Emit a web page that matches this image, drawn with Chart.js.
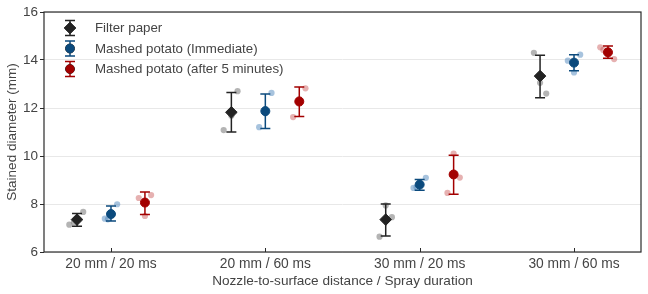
<!DOCTYPE html>
<html>
<head>
<meta charset="utf-8">
<script src="https://cdn.jsdelivr.net/npm/chart.js@4.4.1/dist/chart.umd.min.js"></script>
<style>
  html, body { margin: 0; padding: 0; background: #fff; }
  #wrap { width: 648px; height: 294px; }
</style>
</head>
<body>
<div id="wrap"><canvas id="myChart" width="648" height="294"></canvas></div>
<script>
// categories and series
var categories = ['20 mm / 20 ms', '20 mm / 60 ms', '30 mm / 20 ms', '30 mm / 60 ms'];
var seriesNames = ['Filter paper', 'Mashed potato (Immediate)', 'Mashed potato (after 5 minutes)'];

// means + error bar ends (mm)
var paperMean = [7.35, 11.82, 7.35, 13.33];
var paperLow = [7.07, 11.0, 6.67, 12.43];
var paperHigh = [7.6, 12.65, 8.0, 14.2];

var immediateMean = [7.58, 11.87, 8.81, 13.89];
var immediateLow = [7.29, 11.15, 8.57, 13.55];
var immediateHigh = [7.92, 12.58, 9.02, 14.22];

var after5Mean = [8.06, 12.27, 9.23, 14.32];
var after5Low = [7.56, 11.65, 8.41, 14.07];
var after5High = [8.5, 12.87, 10.03, 14.58];

// single measurements
var paperRaw = [[7.67, 7.14, 7.24], [12.7, 11.08, 11.68], [7.94, 7.45, 6.64], [14.3, 13.05, 12.6]];
var immediateRaw = [[7.99, 7.39, 7.36], [12.63, 11.2, 11.78], [9.09, 8.67, 8.7], [14.22, 13.97, 13.48]];
var after5Raw = [[8.25, 8.37, 7.5], [12.82, 11.62, 12.37], [10.1, 9.1, 8.46], [14.53, 14.04, 14.42]];

// horizontal jitter of the single measurements (category units)
var paperJitter = [[0.04, -0.05, -0.02], [0.04, -0.05, 0], [0, 0.04, -0.04], [-0.04, 0, 0.04]];
var immediateJitter = [[0.04, -0.04, -0.02], [0.04, -0.04, 0], [0.04, -0.04, -0.02], [0.04, -0.04, 0]];
var after5Jitter = [[-0.04, 0.04, 0], [0.04, -0.04, 0], [0, 0.04, -0.04], [-0.05, 0.04, -0.03]];

var yTicks = [6, 8, 10, 12, 14, 16];

// styling
var dodge = [-0.22, 0, 0.22];
var darkColors = ['#232323', '#0b4a7d', '#a30000'];
var lightColors = ['rgba(130,130,130,0.6)', 'rgba(80,135,190,0.5)', 'rgba(205,100,100,0.5)'];
var markerStyles = ['rectRot', 'circle', 'circle'];
var markerSizes = [5.8, 4.5, 4.5];
var textColor = '#444';
var fontFamily = '"Liberation Sans", Arial, Helvetica, sans-serif';

var means = [paperMean, immediateMean, after5Mean];
var lows = [paperLow, immediateLow, after5Low];
var highs = [paperHigh, immediateHigh, after5High];
var raws = [paperRaw, immediateRaw, after5Raw];
var jitters = [paperJitter, immediateJitter, after5Jitter];

function meanPoints(s) {
    var pts = [];
    for (var i = 0; i < categories.length; i++) {
        pts.push({x: i + dodge[s], y: means[s][i]});
    }
    return pts;
}

function rawPoints(s) {
    var pts = [];
    for (var i = 0; i < categories.length; i++) {
        for (var k = 0; k < raws[s][i].length; k++) {
            pts.push({x: i + dodge[s] + jitters[s][i][k], y: raws[s][i][k]});
        }
    }
    return pts;
}

// mean datasets first: index 0 gets drawn last (on top)
var datasets = [];
for (var s = 0; s < 3; s++) {
    datasets.push({
        label: seriesNames[s],
        data: meanPoints(s),
        pointStyle: markerStyles[s],
        pointRadius: markerSizes[s],
        backgroundColor: darkColors[s],
        borderColor: darkColors[s],
        borderWidth: 1
    });
}
for (var s = 0; s < 3; s++) {
    datasets.push({
        label: seriesNames[s] + ' raw',
        data: rawPoints(s),
        pointStyle: 'circle',
        pointRadius: 3.1,
        backgroundColor: lightColors[s],
        borderWidth: 0
    });
}

function drawErrorBar(ctx, x, y1, y2, color, cap) {
    ctx.save();
    ctx.strokeStyle = color;
    ctx.lineWidth = 1.5;
    ctx.beginPath();
    ctx.moveTo(x, y1); ctx.lineTo(x, y2);
    ctx.moveTo(x - cap, y1); ctx.lineTo(x + cap, y1);
    ctx.moveTo(x - cap, y2); ctx.lineTo(x + cap, y2);
    ctx.stroke();
    ctx.restore();
}

var errorBars = {
    id: 'errorBars',
    beforeDatasetDraw: function(chart, args) {
        var s = args.index;
        if (s > 2) return;
        var xs = chart.scales.x, ys = chart.scales.y;
        for (var i = 0; i < categories.length; i++) {
            var x = xs.getPixelForValue(i + dodge[s]);
            drawErrorBar(chart.ctx, x, ys.getPixelForValue(lows[s][i]), ys.getPixelForValue(highs[s][i]), darkColors[s], 5);
        }
    }
};

// frame, inward x ticks, legend
var frameAndLegend = {
    id: 'frameAndLegend',
    afterDraw: function(chart) {
        var ctx = chart.ctx, a = chart.chartArea, xs = chart.scales.x;
        ctx.save();
        ctx.strokeStyle = '#2a2a2a';
        ctx.lineWidth = 1.2;
        ctx.strokeRect(a.left, a.top, a.right - a.left, a.bottom - a.top);
        ctx.beginPath();
        for (var i = 0; i < categories.length; i++) {
            var x = Math.round(xs.getPixelForValue(i)) + 0.5;
            ctx.moveTo(x, a.bottom);
            ctx.lineTo(x, a.bottom - 4);
        }
        ctx.lineWidth = 1;
        ctx.stroke();

        // legend
        var lx = a.left + 26, ly = a.top + 16;
        ctx.font = '13.3px ' + fontFamily;
        ctx.textBaseline = 'middle';
        ctx.textAlign = 'left';
        for (var s = 0; s < 3; s++) {
            var y = ly + s * 20.5;
            drawErrorBar(ctx, lx, y - 7.5, y + 7.5, darkColors[s], 5);
            ctx.fillStyle = darkColors[s];
            Chart.helpers.drawPoint(ctx, {pointStyle: markerStyles[s], radius: markerSizes[s], borderWidth: 1}, lx, y);
            ctx.fill();
            ctx.fillStyle = textColor;
            ctx.fillText(seriesNames[s], lx + 25, y + 0.5);
        }
        ctx.restore();
    }
};

var ctx = document.getElementById('myChart');
var myChart = new Chart(ctx, {
    type: 'scatter',
    data: {datasets: datasets},
    plugins: [errorBars, frameAndLegend],
    options: {
        responsive: false,
        animation: false,
        devicePixelRatio: 1,
        layout: {padding: {top: 12, right: 7, bottom: 0, left: 0}},
        plugins: {legend: {display: false}, tooltip: {enabled: false}},
        scales: {
            x: {
                type: 'linear',
                min: -0.434,
                max: 3.434,
                afterBuildTicks: function(scale) {
                    scale.ticks = categories.map(function(c, i) { return {value: i}; });
                },
                afterFit: function(scale) { scale.height = 42; },
                grid: {display: true, drawOnChartArea: false, drawTicks: false},
                border: {display: false},
                ticks: {
                    color: textColor,
                    font: {family: fontFamily, size: 13.8},
                    padding: 4,
                    maxRotation: 0,
                    autoSkip: false,
                    callback: function(v) { return categories[v]; }
                },
                title: {
                    display: true,
                    text: 'Nozzle-to-surface distance / Spray duration',
                    color: textColor,
                    font: {family: fontFamily, size: 13.6},
                    padding: {top: 0, bottom: 5}
                }
            },
            y: {
                min: 6,
                max: 16,
                afterBuildTicks: function(scale) {
                    scale.ticks = yTicks.map(function(v) { return {value: v}; });
                },
                afterFit: function(scale) { scale.width = 44; },
                grid: {color: '#e8e8e8', lineWidth: 1, tickColor: '#2a2a2a', tickLength: 4},
                border: {display: false},
                ticks: {
                    color: textColor,
                    font: {family: fontFamily, size: 13.5},
                    padding: 2
                },
                title: {
                    display: true,
                    text: 'Stained diameter (mm)',
                    color: textColor,
                    font: {family: fontFamily, size: 13.5},
                    padding: {top: 4, bottom: 0}
                }
            }
        }
    }
});
</script>
</body>
</html>
